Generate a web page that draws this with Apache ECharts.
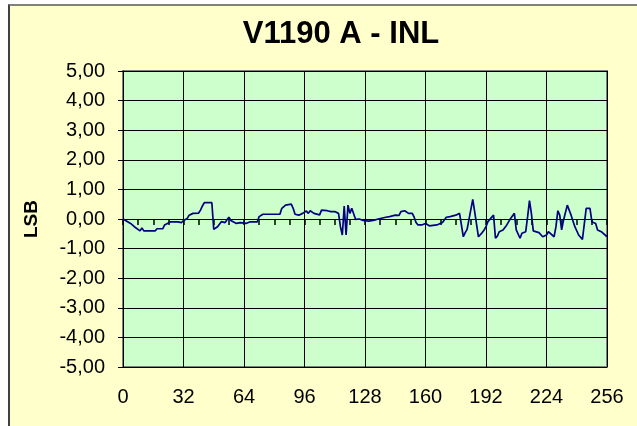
<!DOCTYPE html>
<html>
<head>
<meta charset="utf-8">
<script src="https://cdn.jsdelivr.net/npm/echarts@6/dist/echarts.min.js"></script>
<style>
  html, body { margin: 0; padding: 0; background: #ffffff; overflow: hidden; }
  #frame {
    position: absolute; left: 8px; top: 4px; width: 650px; height: 440px;
    background: #ffffcc;
    border-left: 2px solid #404040;
    border-top: 2px solid #808080;
  }
  #chart { position: absolute; left: 0; top: 0; width: 637px; height: 426px; }
</style>
</head>
<body>
<div id="frame"></div>
<div id="chart"></div>
<script>
// INL curve, code (x) and value in LSB (y)
const codes = [0, 4, 6, 9, 10, 11, 12, 17, 18, 21, 22, 25, 26, 29, 31, 32, 34, 35, 37, 40,
  41, 42, 43, 47, 48, 50, 52, 54, 56, 57, 58, 60, 62, 65, 67, 71, 72, 74, 83, 84,
  86, 87, 89, 90, 91, 93, 95, 97, 98, 99, 101, 102, 104, 105, 108, 110, 112, 113, 114, 115,
  116, 117, 118, 119, 120, 121, 123, 125, 127, 128, 130, 131, 133, 135, 136, 139, 141, 144, 146, 147,
  149, 151, 153, 154, 155, 156, 158, 160, 162, 166, 169, 171, 173, 176, 178, 179, 180, 181, 182, 183,
  185, 186, 187, 188, 190, 191, 192, 193, 194, 196, 197, 198, 199, 201, 203, 205, 207, 208, 210, 211,
  213, 214, 215, 216, 217, 218, 220, 221, 222, 224, 225, 226, 228, 229, 230, 231, 232, 233, 234, 235,
  237, 239, 241, 243, 244, 245, 247, 248, 250, 251, 253, 256];
const inl = [0, -0.15, -0.26, -0.4, -0.3, -0.4, -0.38, -0.4, -0.33, -0.33, -0.2, -0.1, -0.12, -0.1, -0.12, -0.05, 0.02, 0.13, 0.19, 0.2,
  0.3, 0.44, 0.55, 0.55, -0.35, -0.26, -0.09, -0.12, 0.06, -0.05, -0.02, -0.15, -0.12, -0.15, -0.1, -0.1, 0.08, 0.16, 0.16, 0.36,
  0.47, 0.42, 0.5, 0.36, 0.16, 0.13, 0.19, 0.27, 0.19, 0.28, 0.19, 0.2, 0.14, 0.3, 0.28, 0.25, 0.25, 0.19, 0.19, -0.26,
  -0.54, 0.44, -0.54, 0.47, 0.19, 0.36, -0.01, 0, -0.05, 0, -0.07, -0.02, -0.04, 0, -0.04, 0.06, 0.08, 0.13, 0.12, 0.25,
  0.28, 0.19, 0.19, 0.06, -0.12, -0.2, -0.2, -0.15, -0.23, -0.2, -0.12, 0.06, 0.08, 0.13, 0.19, 0.16, -0.6, -0.46, -0.35, -0.37,
  0.66, 0.25, 0.19, -0.6, -0.46, -0.37, -0.26, -0.09, -0.04, 0.13, -0.65, -0.58, -0.43, -0.37, -0.2, 0.02, 0.19, -0.37, -0.65, -0.48,
  -0.43, 0.07, 0.62, 0.19, -0.4, -0.43, -0.46, -0.48, -0.6, -0.54, -0.43, -0.48, -0.6, -0.26, 0.28, 0.13, -0.37, -0.04, 0.02, 0.47,
  0.13, -0.26, -0.54, -0.69, -0.65, 0.36, 0.36, -0.09, -0.15, -0.37, -0.43, -0.6];

const xMin = 0, xMax = 256, xStep = 32, xMinorStep = 8;
const yMin = -5, yMax = 5, yStep = 1;

const chart = echarts.init(document.getElementById('chart'));
const fontFamily = 'Arial, "Liberation Sans", sans-serif';

chart.setOption({
  backgroundColor: 'transparent',
  animation: false,
  title: {
    text: 'V1190 A - INL',
    left: 336,
    top: 14,
    textAlign: 'center',
    textStyle: { fontFamily, fontSize: 31, fontWeight: 'bold', color: '#000' }
  },
  grid: {
    left: 123, top: 71, width: 484, height: 296,
    show: true, backgroundColor: '#ccffcc', borderColor: '#808080', borderWidth: 2
  },
  xAxis: [
    {
      type: 'value', min: xMin, max: xMax, interval: xStep,
      position: 'bottom',
      axisLine: { show: false, onZero: false },
      axisTick: { show: false },
      axisLabel: { margin: 20, fontFamily, fontSize: 20, color: '#000' },
      splitLine: { show: true, lineStyle: { color: '#000', width: 1 } }
    },
    {
      // axis line that crosses at y = 0, ticks every 8 codes pointing down
      type: 'value', min: xMin, max: xMax, interval: xMinorStep,
      position: 'top',
      axisLine: { show: true, onZero: true, onZeroAxisIndex: 0, lineStyle: { color: '#000', width: 1 } },
      axisTick: { show: true, inside: true, length: 6, lineStyle: { color: '#000', width: 1.5 } },
      axisLabel: { show: false },
      splitLine: { show: false },
      z: 4
    }
  ],
  yAxis: {
    type: 'value', min: yMin, max: yMax, interval: yStep,
    name: 'LSB', nameLocation: 'middle', nameGap: 82, nameRotate: 90,
    nameTextStyle: { fontFamily, fontSize: 19, fontWeight: 'bold', color: '#000' },
    axisLine: { show: true, onZero: false, lineStyle: { color: '#000', width: 1 } },
    axisTick: { show: true, length: 5, lineStyle: { color: '#000' } },
    axisLabel: {
      margin: 18, fontFamily, fontSize: 20, color: '#000',
      formatter: v => v.toFixed(2).replace('.', ',')
    },
    splitLine: { show: true, lineStyle: { color: '#000', width: 1 } }
  },
  series: [{
    type: 'line',
    xAxisIndex: 0,
    data: codes.map((c, i) => [c, inl[i]]),
    showSymbol: false,
    lineStyle: { color: '#000080', width: 1.7 },
    z: 5
  }]
});
</script>
</body>
</html>
